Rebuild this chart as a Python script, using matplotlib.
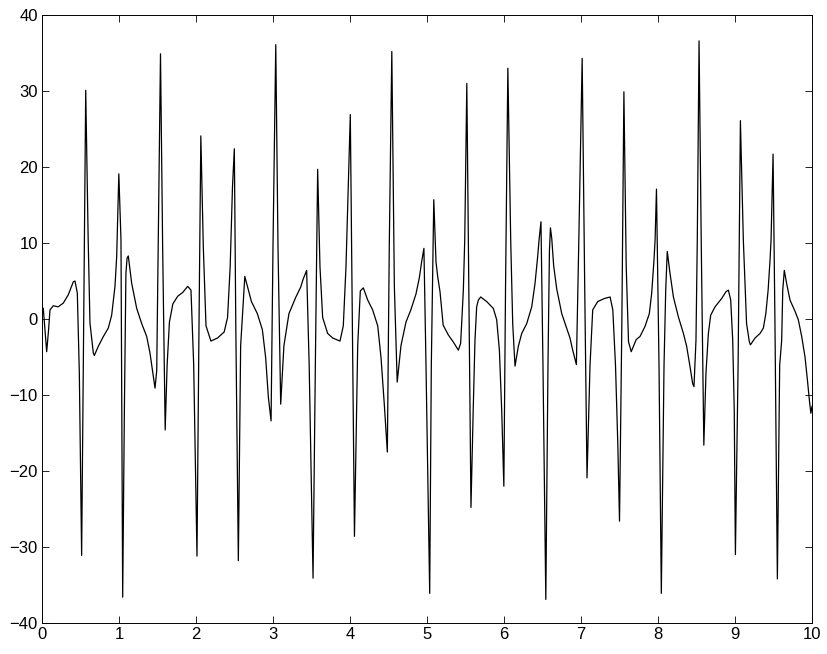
import matplotlib
matplotlib.use("Agg")
import matplotlib.pyplot as plt

# points
t = [0.00, 0.017, 0.04, 0.061, 0.085, 0.104, 0.147, 0.21, 0.277, 0.342, 0.407, 0.429, 0.459, 0.485, 0.515, 0.55,
     0.568, 0.60, 0.623, 0.667, 0.68, 0.731, 0.797, 0.861, 0.905, 0.948, 0.97, 0.985, 0.998, 1.026, 1.048, 1.07,
     1.09, 1.105, 1.121, 1.165, 1.23, 1.295, 1.36, 1.403, 1.446, 1.468, 1.49, 1.51, 1.539, 1.567, 1.600, 1.625,
     1.655, 1.70, 1.763, 1.828, 1.892, 1.935, 1.97,
     2.013, 2.039, 2.063, 2.095, 2.13, 2.194, 2.28, 2.366, 2.41, 2.444, 2.474, 2.498, 2.517, 2.55, 2.58, 2.634,
     2.668, 2.72, 2.797, 2.862, 2.905, 2.94, 2.975, 3.0, 3.036, 3.065, 3.10, 3.142, 3.207, 3.293, 3.36, 3.39,
     3.437, 3.47, 3.52, 3.55, 3.58, 3.61, 3.645, 3.71, 3.775, 3.87, 3.913, 3.948, 3.978, 4.004, 4.026, 4.058,
     4.1, 4.134, 4.173, 4.23, 4.294, 4.36, 4.403, 4.446, 4.485, 4.51, 4.543, 4.576, 4.613, 4.662, 4.727, 4.79,
     4.857, 4.9, 4.93, 4.96, 4.987, 5.035, 5.056, 5.088, 5.117, 5.14, 5.169, 5.21, 5.277, 5.34, 5.407, 5.437,
     5.472, 5.49, 5.517, 5.537, 5.571, 5.60, 5.623, 5.645, 5.667, 5.697, 5.775, 5.861, 5.905, 5.94, 5.97, 5.998,
     6.02, 6.05, 6.087, 6.113, 6.143, 6.186, 6.23, 6.295, 6.36, 6.403, 6.437, 6.455, 6.48, 6.506, 6.543, 6.571,
     6.59, 6.603, 6.62, 6.645, 6.684, 6.75, 6.814, 6.857, 6.89, 6.94, 6.97, 7.015, 7.048, 7.078, 7.117, 7.152,
     7.217, 7.304, 7.378, 7.413, 7.448, 7.478, 7.5, 7.53, 7.557, 7.587, 7.617, 7.652, 7.717, 7.766, 7.83, 7.887,
     7.918, 7.948, 7.962, 7.98, 8.013, 8.043, 8.078, 8.10, 8.12, 8.156, 8.2, 8.264, 8.33, 8.372, 8.416, 8.45,
     8.467, 8.493, 8.51, 8.533, 8.562, 8.595, 8.623, 8.654, 8.684, 8.74, 8.827, 8.883, 8.914, 8.944, 8.97, 8.99,
     9.005, 9.04, 9.07, 9.108, 9.15, 9.186, 9.2, 9.26, 9.325, 9.368, 9.4, 9.43, 9.455, 9.468, 9.494, 9.519,
     9.55, 9.58, 9.606, 9.62, 9.64, 9.67, 9.714, 9.78, 9.822, 9.866, 9.909, 9.94, 9.966, 9.985, 10.0]
y = [1.5, 1.4, -1.5, -4.3, -1.5, 1.2, 1.75, 1.6, 2.1, 3.2, 4.9, 5.0, 3.4, -7.1, -31.1, 10.4,
     30.1, 10.4, -0.5, -4.5, -4.8, -3.6, -2.3, -1.2, 0.5, 4.3, 8.2, 14.0, 19.1, 10.4, -36.6, -12.0,
     6.0, 8.0, 8.3, 4.7, 1.4, -0.6, -2.3, -4.5, -7.6, -9.1, -6.8, 10.0, 34.9, 9.5, -14.6, -6.1,
     -0.4, 2.0, 3.0, 3.5, 4.3, 3.8, -6.0,
     -31.2, -0.9, 24.1, 9.5, -0.9, -2.9, -2.5, -1.7, 0.2, 6.9, 17.4, 22.4, -0.9, -31.8, -3.5, 5.6,
     4.3, 2.3, 0.7, -1.4, -5.1, -10.3, -13.4, 9.5, 36.1, 9.5, -11.2, -3.5, 0.7, 2.8, 4.2, 5.2,
     6.4, -6.1, -34.1, -6.1, 19.7, 6.9, 0.2, -1.9, -2.5, -2.9, -0.9, 6.9, 17.4, 26.9, 4.3, -28.6,
     -3.5, 3.7, 4.1, 2.5, 1.2, -0.9, -5.1, -11.3, -17.5, 9.5, 35.2, 4.3, -8.3, -3.5, -0.4, 1.2,
     3.3, 5.4, 7.5, 9.3, -6.1, -36.1, -6.1, 15.7, 7.5, 5.5, 3.6, -0.8, -2.1, -3.0, -4.1, -3.2,
     3.8, 10.4, 31.0, 10.4, -24.8, -12.0, -2.8, 1.6, 2.5, 2.9, 2.3, 1.4, -0.1, -4.1, -12.0, -22.0,
     4.3, 33.0, 10.4, -0.6, -6.2, -3.6, -1.9, -0.6, 1.6, 4.7, 8.2, 10.4, 12.8, -6.1, -36.9, -6.1,
     9.0, 12.0, 10.6, 7.0, 4.0, 0.7, -1.2, -2.5, -4.0, -6.0, 9.5, 34.3, 4.3, -20.9, -6.1, 1.2,
     2.3, 2.7, 2.9, 1.2, -6.1, -16.5, -26.6, -0.9, 29.9, 6.9, -3.0, -4.3, -2.7, -2.3, -1.0, 0.7,
     3.4, 7.8, 10.4, 17.1, -6.1, -36.1, -6.1, 3.8, 8.9, 6.0, 2.9, 0.3, -1.9, -3.6, -6.3, -8.5,
     -8.9, -2.8, 10.4, 36.6, 9.5, -16.6, -7.1, -1.9, 0.5, 1.6, 2.7, 3.6, 3.8, 2.5, -2.8, -12.0,
     -31.0, -6.1, 26.1, 10.4, -0.6, -3.0, -3.4, -2.5, -1.9, -1.2, 0.7, 3.8, 7.8, 10.4, 21.7, -0.9,
     -34.2, -6.1, -2.8, 3.8, 6.4, 4.7, 2.5, 1.0, -0.1, -2.3, -5.0, -8.0, -10.7, -12.4, -11.5]

xticks = list(range(0, 11))
yticks = list(range(-40, 41, 10))

plt.rcParams['font.family'] = ['Liberation Sans', 'DejaVu Sans']
fig = plt.figure(figsize=(8.28, 6.54), dpi=100)
ax = fig.add_axes([0.0507, 0.0474, 0.93, 0.9296])
ax.plot(t, y, color='black', linewidth=0.9)
ax.set_xlim(0, 10)
ax.set_ylim(-40, 40)
ax.set_xticks(xticks)
ax.set_yticks(yticks)
ax.tick_params(direction='in', top=True, right=True, length=5, width=0.6, labelsize=12, pad=3)
for s in ax.spines.values():
    s.set_linewidth(0.7)
fig.savefig('out.png', dpi=100)
